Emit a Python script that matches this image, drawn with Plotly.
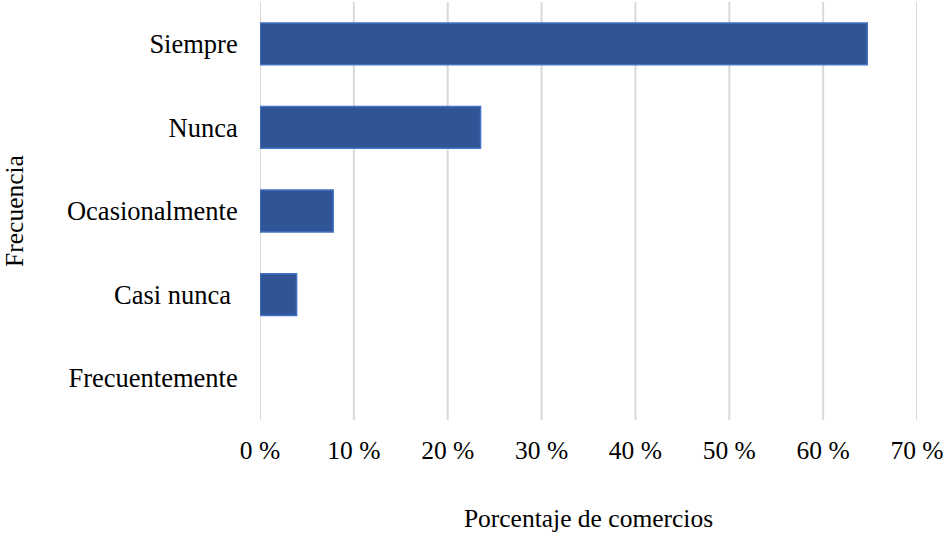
import plotly.graph_objects as go

categories = ["Siempre", "Nunca", "Ocasionalmente", "Casi nunca ", "Frecuentemente"]
percentages = [64.7, 23.5, 7.8, 3.9, 0.0]
tick_values = [0, 10, 20, 30, 40, 50, 60, 70]
tick_labels = [f"{v} %" for v in tick_values]

font_family = "Liberation Serif"
font_size = 25.5
grid_color = "#D9D9D9"

# No outline on empty bars so a zero value leaves no sliver
outline_widths = [1.5 if v > 0 else 0 for v in percentages]

fig = go.Figure(
    go.Bar(
        x=percentages,
        y=categories,
        orientation="h",
        marker=dict(color="#2F5597", line=dict(color="#4472C4", width=outline_widths)),
        width=0.5,
    )
)

# Vertical grid lines at every tick, including both ends of the axis
for v in tick_values:
    fig.add_shape(
        type="line", xref="x", yref="paper",
        x0=v, x1=v, y0=0, y1=1,
        line=dict(color=grid_color, width=2),
        layer="below",
    )

fig.update_layout(
    width=943,
    height=533,
    margin=dict(l=260, r=26, t=2, b=113),
    plot_bgcolor="white",
    paper_bgcolor="white",
    font=dict(family=font_family, size=font_size, color="#000000"),
    showlegend=False,
)

fig.update_xaxes(
    range=[0, 70],
    tickvals=tick_values,
    ticktext=tick_labels,
    ticklabeloverflow="allow",
    automargin=False,
    showgrid=False,
    zeroline=False,
    showline=False,
    ticks="outside",
    ticklen=7,
    tickcolor="rgba(0,0,0,0)",
    title=dict(text="Porcentaje de comercios", standoff=47, font=dict(size=font_size)),
)

fig.update_yaxes(
    categoryorder="array",
    categoryarray=categories[::-1],
    automargin=False,
    showgrid=False,
    zeroline=False,
    showline=False,
    ticks="outside",
    ticklen=16,
    tickcolor="rgba(0,0,0,0)",
    tickfont=dict(size=26.5),
    title=dict(text="Frecuencia", standoff=40, font=dict(size=font_size)),
)

fig.write_html("out.html")
